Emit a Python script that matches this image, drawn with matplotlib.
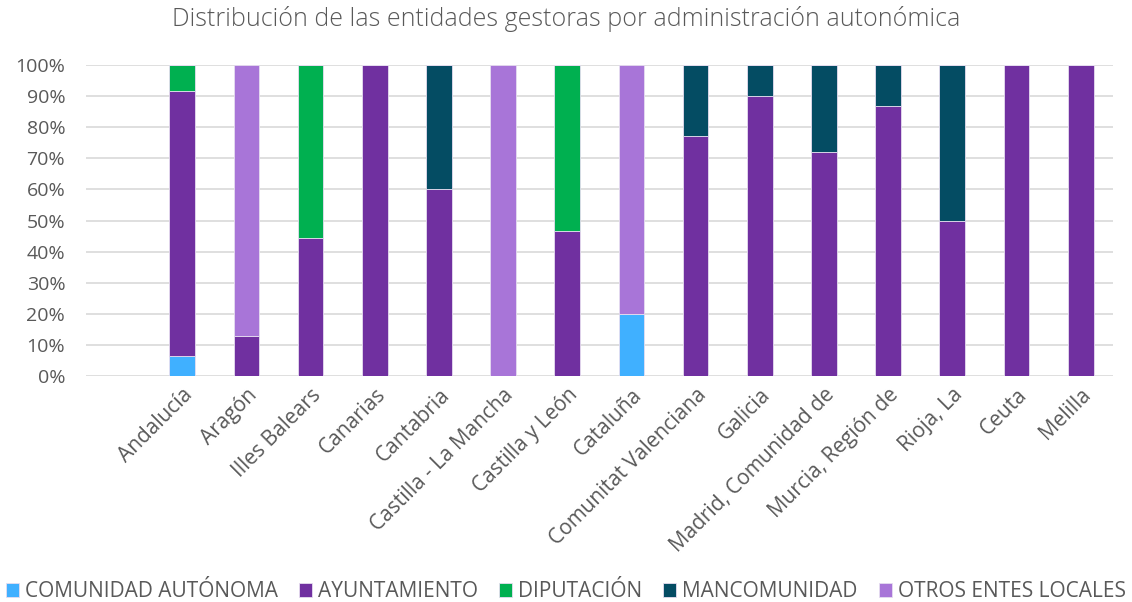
import numpy as np
import matplotlib.pyplot as plt

regiones = ['Andalucía', 'Aragón', 'Illes Balears', 'Canarias', 'Cantabria',
            'Castilla - La Mancha', 'Castilla y León', 'Cataluña',
            'Comunitat Valenciana', 'Galicia', 'Madrid, Comunidad de',
            'Murcia, Región de', 'Rioja, La', 'Ceuta', 'Melilla']

series = ['COMUNIDAD AUTÓNOMA', 'AYUNTAMIENTO', 'DIPUTACIÓN', 'MANCOMUNIDAD', 'OTROS ENTES LOCALES']

comunidad = [6.4, 0, 0, 0, 0, 0, 0, 20.0, 0, 0, 0, 0, 0, 0, 0]
ayuntamiento = [85.1, 12.9, 44.4, 100, 60.0, 0, 46.7, 0, 77.3, 90.0, 72.0, 86.7, 50.0, 100, 100]
diputacion = [8.5, 0, 55.6, 0, 0, 0, 53.3, 0, 0, 0, 0, 0, 0, 0, 0]
mancomunidad = [0, 0, 0, 0, 40.0, 0, 0, 0, 22.7, 10.0, 28.0, 13.3, 50.0, 0, 0]
otros = [0, 87.1, 0, 0, 0, 100, 0, 80.0, 0, 0, 0, 0, 0, 0, 0]

colores = ['#40B0FF', '#7030A0', '#00B050', '#044C63', '#A875D8']

plt.rcParams['font.family'] = ['Open Sans', 'DejaVu Sans']

fig = plt.figure(figsize=(11.32, 6.02), dpi=100)
ax = fig.add_axes([0.076, 0.3754, 0.907, 0.5166])

x = np.arange(len(regiones))
bottom = np.zeros(len(regiones))
for nombre, vals, c in zip(series, [comunidad, ayuntamiento, diputacion, mancomunidad, otros], colores):
    vals = np.array(vals, dtype=float) / 100
    ax.bar(x, vals, 0.4, bottom=bottom, color=c, label=nombre,
           edgecolor='#E6DDF0', linewidth=0.6, zorder=3)
    bottom += vals

ax.set_xlim(-1.5, len(regiones) - 0.5)
ax.set_ylim(0, 1)
ax.set_yticks(np.arange(0, 1.01, 0.1))
ax.set_yticklabels([f'{int(v*100)}%' for v in np.arange(0, 1.01, 0.1)])
ax.grid(axis='y', color='#D9D9D9', linewidth=1.2, zorder=0)
for s in ax.spines.values():
    s.set_visible(False)
ax.tick_params(axis='y', length=0, labelsize=14, colors='#595959', pad=15)
ax.tick_params(axis='x', length=0, labelsize=15, colors='#595959', pad=6)
ax.set_xticks(x)
ax.set_xticklabels(regiones, rotation=45, ha='right', rotation_mode='anchor')

fig.suptitle('Distribución de las entidades gestoras por administración autonómica',
             x=0.5, y=0.99, fontsize=18, color='#595959', fontweight='light')

fig.legend(loc='center', bbox_to_anchor=(0.5, 0.017), ncol=5, frameon=False,
           fontsize=15, labelcolor='#595959', handlelength=0.62, handleheight=0.62,
           handletextpad=0.3, columnspacing=1.0)

plt.savefig('out.png')
